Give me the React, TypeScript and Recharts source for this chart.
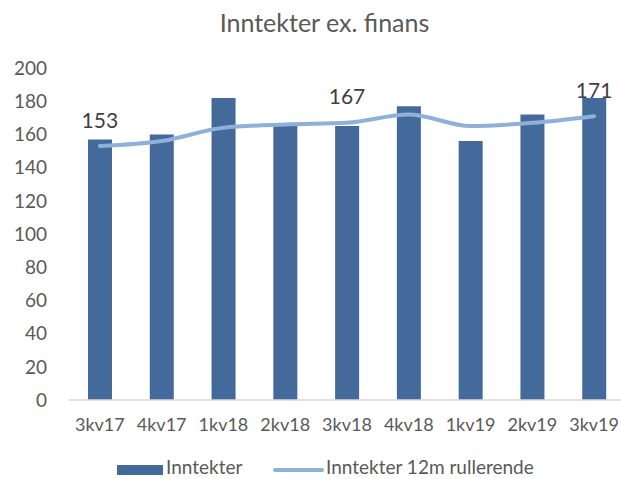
import React from 'react';
import { ComposedChart, Bar, Line, XAxis, YAxis, Legend, LabelList } from 'recharts';

const categories = ['3kv17', '4kv17', '1kv18', '2kv18', '3kv18', '4kv18', '1kv19', '2kv19', '3kv19'];
const inntekter = [157, 160, 182, 165, 165, 177, 156, 172, 182];
const rullerende = [153, 156, 164, 166, 167, 172, 165, 167, 171];
const labelled = [153, null, null, null, 167, null, null, null, 171];
const yTicks = [0, 20, 40, 60, 80, 100, 120, 140, 160, 180, 200];

const data = categories.map((c, i) => ({
  name: c,
  inntekter: inntekter[i],
  rullerende: rullerende[i],
  label: labelled[i],
}));

const FONT = 'Lato, "Open Sans", sans-serif';
const BAR = '#44699b';
const LINE = '#8fb0d8';

const renderLabel = (props: any) => {
  const { x, y, value } = props;
  if (value === null || value === undefined) return null;
  return (
    <text x={x} y={y - 27} textAnchor="middle" dominantBaseline="central" fill="#404040" fontSize={21} fontFamily={FONT}>
      {value}
    </text>
  );
};

const renderLegend = () => (
  <div style={{ position: 'relative', height: 26, fontFamily: FONT, fontSize: 19, color: '#595959' }}>
    <span style={{ position: 'absolute', left: 117, top: 12, width: 46, height: 10, background: BAR }} />
    <span style={{ position: 'absolute', left: 166, top: 4, lineHeight: '20px', whiteSpace: 'nowrap' }}>Inntekter</span>
    <span style={{ position: 'absolute', left: 273, top: 15, width: 51, height: 4, borderRadius: 2, background: LINE }} />
    <span style={{ position: 'absolute', left: 326, top: 4, lineHeight: '20px', whiteSpace: 'nowrap' }}>Inntekter 12m rullerende</span>
  </div>
);

export default function App() {
  return (
    <div style={{ position: 'absolute', left: 0, top: 0, width: 621, height: 479, overflow: 'hidden', background: '#fff' }}>
      <div style={{ position: 'absolute', top: 6, left: 14, width: 621, lineHeight: '32px', textAlign: 'center', fontFamily: FONT, fontSize: 25, color: '#595959' }}>
        Inntekter ex. finans
      </div>
      <ComposedChart width={625} height={479} data={data} margin={{ top: 68, right: 0, bottom: 0, left: 0 }}>
        <XAxis
          dataKey="name"
          tickLine={false}
          axisLine={{ stroke: '#d9d9d9', strokeWidth: 1.5 }}
          tick={{ fill: '#595959', fontSize: 18, fontFamily: FONT }}
          tickMargin={12}
          height={53}
          interval={0}
        />
        <YAxis
          domain={[0, 200]}
          ticks={yTicks}
          tickLine={false}
          axisLine={false}
          tick={{ fill: '#595959', fontSize: 19, fontFamily: FONT }}
          tickSize={0}
          tickMargin={22}
          width={69}
          interval={0}
        />
        <Legend content={renderLegend} verticalAlign="bottom" height={26} />
        <Bar dataKey="inntekter" fill={BAR} barSize={24} isAnimationActive={false} />
        <Line
          dataKey="rullerende"
          type="monotone"
          stroke={LINE}
          strokeWidth={4}
          strokeLinecap="round"
          dot={false}
          activeDot={false}
          isAnimationActive={false}
        >
          <LabelList dataKey="label" content={renderLabel} />
        </Line>
      </ComposedChart>
    </div>
  );
}
